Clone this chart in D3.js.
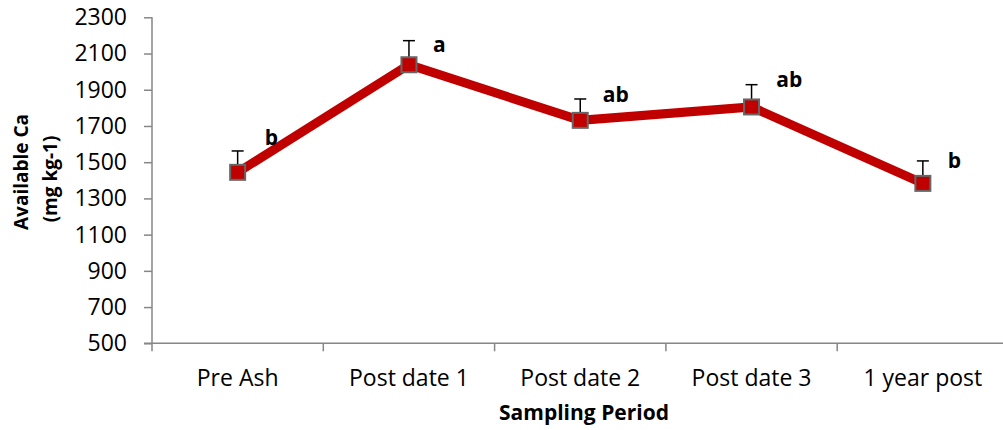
<!DOCTYPE html>
<html>
<head>
<meta charset="utf-8">
<script src="https://cdn.jsdelivr.net/npm/d3@7"></script>
<style>
  html, body { margin: 0; padding: 0; background: #fff; }
  svg { display: block; }
  text { font-family: "Open Sans", Lato, sans-serif; fill: #000; }
</style>
</head>
<body>
<svg id="chart" width="1003" height="430"></svg>
<script>
// ---- data ----
const categories = ["Pre Ash", "Post date 1", "Post date 2", "Post date 3", "1 year post"];
const meanValues = [1444, 2038, 1731, 1805, 1383];
const errorValues = [118, 133, 118, 123, 124];
const letterLabels = ["b", "a", "ab", "ab", "b"];
const yTicks = [500, 700, 900, 1100, 1300, 1500, 1700, 1900, 2100, 2300];

// ---- layout ----
const svg = d3.select("#chart");
const plotLeft = 152, plotRight = 1008.5, plotTop = 17.3, plotBottom = 343.3;
const labelOffsets = [[27, -6], [24, 11], [22.5, 3], [24.7, 2], [25, 7]];
const FONT = "'Open Sans', Lato, sans-serif";

const x = d3.scaleBand().domain(categories).range([plotLeft, plotRight]).padding(0);
const y = d3.scaleLinear().domain([500, 2300]).range([plotBottom, plotTop]);
const cx = c => x(c) + x.bandwidth() / 2;

const axisColor = "#868686";

// Y axis
const yAxis = d3.axisLeft(y).tickValues(yTicks).tickFormat(d3.format("d"))
  .tickSize(8).tickSizeOuter(0).tickPadding(17);
const gy = svg.append("g").attr("transform", `translate(${plotLeft},0)`).call(yAxis);
gy.select(".domain").remove();
gy.selectAll(".tick line").attr("stroke", axisColor).attr("stroke-width", 1.5);
gy.selectAll(".tick text").style("font-size", "23px").style("font-family", FONT).attr("fill", "#000");
svg.append("line").attr("x1", plotLeft).attr("x2", plotLeft).attr("y1", plotTop).attr("y2", plotBottom + 8)
  .attr("stroke", axisColor).attr("stroke-width", 1.5);

// X axis
const gx = svg.append("g").attr("transform", `translate(0,${plotBottom})`)
  .call(d3.axisBottom(x).tickSize(0).tickPadding(0));
gx.select(".domain").remove();
gx.selectAll(".tick text").style("font-size", "23px").style("font-family", FONT)
  .attr("fill", "#000").attr("dy", null).attr("y", 43);
svg.append("line").attr("x1", plotLeft - 8).attr("x2", plotRight).attr("y1", plotBottom).attr("y2", plotBottom)
  .attr("stroke", axisColor).attr("stroke-width", 1.5);
// boundary ticks
svg.append("g").selectAll("line").data(categories.slice(1)).join("line")
  .attr("x1", d => x(d)).attr("x2", d => x(d))
  .attr("y1", plotBottom).attr("y2", plotBottom + 8)
  .attr("stroke", axisColor).attr("stroke-width", 1.5);

// Axis titles
svg.append("text").attr("x", 584).attr("y", 420).attr("text-anchor", "middle")
  .style("font-size", "21px").style("font-weight", "bold").text("Sampling Period");
const yt = svg.append("g");
yt.append("text").attr("transform", "translate(28,172) rotate(-90)").attr("text-anchor", "middle")
  .style("font-size", "19px").style("font-weight", "bold").text("Available Ca");
yt.append("text").attr("transform", "translate(57,179) rotate(-90)").attr("text-anchor", "middle")
  .style("font-size", "19px").style("font-weight", "bold").text("(mg kg-1)");

const pts = categories.map((c, i) => ({ c, v: meanValues[i], e: errorValues[i], lab: letterLabels[i], i }));

// Line
svg.append("path").datum(pts)
  .attr("d", d3.line().x(d => cx(d.c)).y(d => y(d.v)))
  .attr("fill", "none").attr("stroke", "#C00000").attr("stroke-width", 9).attr("stroke-linejoin", "miter");

// Error bars
const eb = svg.append("g").selectAll("g").data(pts).join("g");
eb.append("line").attr("x1", d => cx(d.c)).attr("x2", d => cx(d.c))
  .attr("y1", d => y(d.v)).attr("y2", d => y(d.v + d.e))
  .attr("stroke", "#000").attr("stroke-width", 1.5);
eb.append("line").attr("x1", d => cx(d.c) - 6).attr("x2", d => cx(d.c) + 6)
  .attr("y1", d => y(d.v + d.e)).attr("y2", d => y(d.v + d.e))
  .attr("stroke", "#000").attr("stroke-width", 1.5);

// Markers
svg.append("g").selectAll("rect").data(pts).join("rect")
  .attr("x", d => cx(d.c) - 7.5).attr("y", d => y(d.v) - 7.5)
  .attr("width", 15).attr("height", 15)
  .attr("fill", "#C00000").attr("stroke", "#666666").attr("stroke-width", 2);

// Letter labels
svg.append("g").selectAll("text").data(pts).join("text")
  .attr("x", d => cx(d.c) + labelOffsets[d.i][0])
  .attr("y", d => y(d.v + d.e) + labelOffsets[d.i][1])
  .style("font-size", "21px").style("font-weight", "bold").text(d => d.lab);
</script>
</body>
</html>
